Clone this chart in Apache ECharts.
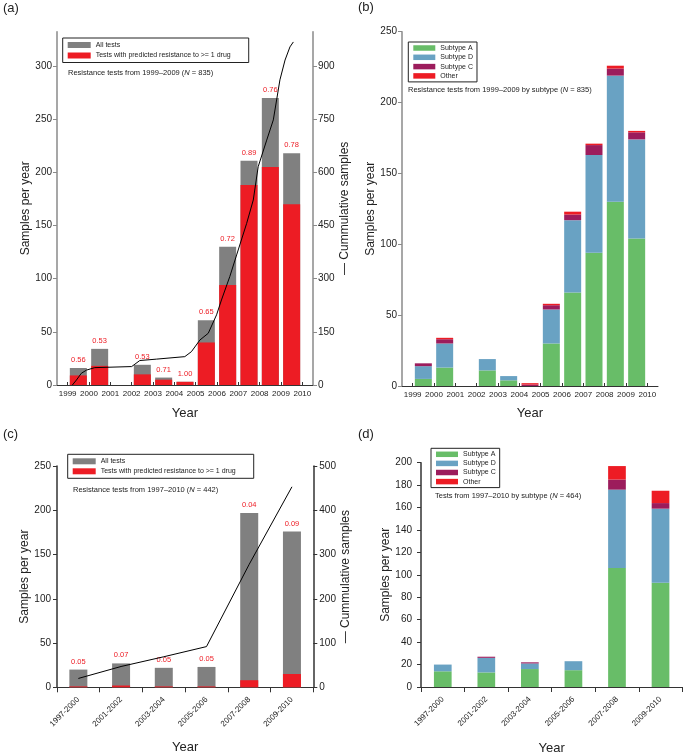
<!DOCTYPE html>
<html><head><meta charset="utf-8">
<script src="https://cdn.jsdelivr.net/npm/echarts@6/dist/echarts.min.js"></script>
<style>html,body{margin:0;padding:0;background:#fff}#c{width:686px;height:756px}</style>
</head><body><div id="c"></div>
<script>
// ---- Panel (a) ----
const yearsA = [1999, 2000, 2001, 2002, 2003, 2004, 2005, 2006, 2007, 2008, 2009];
const allTestsA = [16, 34, 0, 19, 7, 3, 61, 130, 211, 270, 218];
const resistantA = [9, 18, 0, 10, 5, 3, 40, 94, 188, 205, 170];
const ratioA = ['0.56', '0.53', '', '0.53', '0.71', '1.00', '0.65', '0.72', '0.89', '0.76', '0.78'];
const cumTimeA = [1999.22, 1999.41, 1999.64, 1999.88, 2000.27, 2002.0, 2002.38, 2003.16, 2004.49, 2004.8, 2005.2, 2005.59, 2005.98, 2006.21, 2006.6, 2006.92, 2007.39, 2007.7, 2007.93, 2008.33, 2008.64, 2008.95, 2009.19, 2009.42, 2009.58];
const cumValueA = [0, 14, 33, 42, 49, 52, 69, 73, 80, 94, 127, 146, 198, 240, 306, 367, 456, 522, 616, 691, 748, 861, 917, 954, 968];
const yearTicks = [1999, 2000, 2001, 2002, 2003, 2004, 2005, 2006, 2007, 2008, 2009, 2010];
const leftTicksA = [0, 50, 100, 150, 200, 250, 300];
const rightTicksA = [0, 150, 300, 450, 600, 750, 900];

// ---- Panel (b) ----
const subAB = [5, 13, 0, 11, 4, 0, 30, 66, 94, 130, 104];
const subDB = [9, 17, 0, 8, 3, 0, 24, 51, 69, 89, 70];
const subCB = [2, 3, 0, 0, 0, 1, 3, 4, 7, 5, 5];
const otherB = [0, 1, 0, 0, 0, 1, 1, 2, 1, 2, 1];
const leftTicksB = [0, 50, 100, 150, 200, 250];

// ---- Panel (c) ----
const periods = ['1997-2000', '2001-2002', '2003-2004', '2005-2006', '2007-2008', '2009-2010'];
const allTestsC = [20, 27, 22, 23, 197, 176];
const resistantC = [1, 2, 1, 1, 8, 15];
const ratioC = ['0.05', '0.07', '0.05', '0.05', '0.04', '0.09'];
const cumC = [20, 47, 69, 92, 278, 453];
const leftTicksC = [0, 50, 100, 150, 200, 250];
const rightTicksC = [0, 100, 200, 300, 400, 500];

// ---- Panel (d) ----
const subAD = [14, 13, 16, 15, 106, 93];
const subDD = [6, 13, 5, 8, 70, 66];
const subCD = [0, 1, 1, 0, 9, 5];
const otherD = [0, 0, 0, 0, 12, 11];
const leftTicksD = [0, 20, 40, 60, 80, 100, 120, 140, 160, 180, 200];

const FF = 'Liberation Sans, Arial, Helvetica, sans-serif';
const GRAY = '#808080', RED = '#ed1c24', GREEN = '#68bd68', BLUE = '#69a2c3', PURPLE = '#9c1c5c';
const AX_GRAY = '#8a8a8a', AX_DARK = '#333';

const chart = echarts.init(document.getElementById('c'), null, {renderer: 'canvas'});

function yAx(grid, pos, max, ticks, name, gap, color, margin) {
  return {
    type: 'value', gridIndex: grid, position: pos, min: 0, max: max,
    splitLine: {show: false},
    axisLine: {show: true, lineStyle: {color: color, width: 1.5}},
    axisTick: {show: true, length: 4, customValues: ticks, lineStyle: {color: color, width: 1}},
    axisLabel: {customValues: ticks, fontSize: 10, color: '#222', fontFamily: FF, margin: margin},
    name: name, nameLocation: 'middle', nameGap: gap, nameRotate: 90,
    nameTextStyle: {fontSize: 12, color: '#222', fontFamily: FF}
  };
}
function xVal(grid, gap) {
  return {
    type: 'value', gridIndex: grid, min: 1998.5, max: 2010.5,
    splitLine: {show: false},
    axisLine: {show: true, onZero: false, lineStyle: {color: AX_DARK, width: 1}},
    axisTick: {show: true, inside: true, length: 3, customValues: yearTicks, lineStyle: {color: AX_DARK}},
    axisLabel: {customValues: yearTicks, fontSize: 8, color: '#222', fontFamily: FF, margin: 5, formatter: v => String(v)},
    name: 'Year', nameLocation: 'middle', nameGap: gap,
    nameTextStyle: {fontSize: 13, color: '#222', fontFamily: FF}
  };
}
function xCat(grid, gap) {
  return {
    type: 'category', gridIndex: grid, data: periods,
    axisLine: {show: true, onZero: false, lineStyle: {color: AX_DARK, width: 1}},
    axisTick: {show: true, length: 5, lineStyle: {color: AX_DARK}},
    axisLabel: {rotate: 45, fontSize: 8, color: '#222', fontFamily: FF, margin: 11, interval: 0},
    name: 'Year', nameLocation: 'middle', nameGap: gap,
    nameTextStyle: {fontSize: 13, color: '#222', fontFamily: FF}
  };
}
function legendBox(names, left, top, swW, swH, gap, pad) {
  return {
    data: names, left: left, top: top, orient: 'vertical', icon: 'rect', align: 'left',
    itemWidth: swW, itemHeight: swH, itemGap: gap, padding: pad, selectedMode: false,
    borderColor: '#222', borderWidth: 1,
    textStyle: {fontSize: 7, lineHeight: 8, color: '#222', fontFamily: FF}
  };
}
function note(text, left, top) {
  return {
    text: text, left: left, top: top, padding: 0,
    textStyle: {fontSize: 7.5, fontWeight: 'normal', color: '#222', fontFamily: FF,
      rich: {i: {fontStyle: 'italic', fontSize: 7.5, color: '#222', fontFamily: FF}}}
  };
}
function panelTitle(text, left, top) {
  return {text: text, left: left, top: top, padding: 0,
    textStyle: {fontSize: 13, fontWeight: 'normal', color: '#222', fontFamily: FF}};
}
const ratioLabel = arr => ({show: true, position: 'top', distance: 4, color: RED, fontSize: 7.5, fontFamily: FF,
  formatter: p => arr[p.dataIndex]});

const subNames = ['Subtype A', 'Subtype D', 'Subtype C', 'Other'];
const resNames = ['All tests', 'Tests with predicted resistance to >= 1 drug'];
const subColors = [GREEN, BLUE, PURPLE, RED];

// stacked bars on a value x-axis: value column first so that it is the stacked dimension
function stackSeriesValueX(xi, yi, arrs, xs, width, stackName) {
  return arrs.map((arr, k) => ({
    type: 'bar', name: subNames[k], xAxisIndex: xi, yAxisIndex: yi, stack: stackName,
    barWidth: width, itemStyle: {color: subColors[k]},
    encode: {x: 1, y: 0},
    data: arr.map((v, i) => [v, xs[i]])
  }));
}
function stackSeriesCat(xi, yi, arrs, width, stackName) {
  return arrs.map((arr, k) => ({
    type: 'bar', name: subNames[k], xAxisIndex: xi, yAxisIndex: yi, stack: stackName,
    barWidth: width, itemStyle: {color: subColors[k]}, data: arr
  }));
}
const barPosA = yearsA.map(y => y + 0.5);

const option = {
  animation: false,
  textStyle: {fontFamily: FF},
  title: [
    panelTitle('(a)', 3, 2), panelTitle('(b)', 358, 1), panelTitle('(c)', 3, 428), panelTitle('(d)', 358, 428),
    note('Resistance tests from 1999\u20132009 ({i|N} = 835)', 68, 68.5),
    note('Resistance tests from 1999\u20132009 by subtype ({i|N} = 835)', 408, 85.5),
    note('Resistance tests from 1997\u20132010 ({i|N} = 442)', 73, 485.5),
    note('Tests from 1997\u20132010 by subtype ({i|N} = 464)', 435, 491.5)
  ],
  legend: [
    legendBox(resNames, 62.7, 38, 23, 6, 2.5, [3, 18, 3, 5]),
    legendBox(subNames, 408.3, 42, 22, 5.5, 1.3, [2, 4, 2, 5]),
    legendBox(resNames, 67.7, 454.3, 23, 6, 2, [3, 18, 3, 5]),
    legendBox(subNames, 431, 448.3, 22, 5.5, 1.1, [2, 4, 2, 5])
  ],
  grid: [
    {left: 57, top: 31.7, width: 256, height: 353.3},
    {left: 402, top: 31.7, width: 256, height: 354.3},
    {left: 57, top: 466, width: 256.3, height: 221.3},
    {left: 421, top: 462.7, width: 261.3, height: 224.3}
  ],
  xAxis: [xVal(0, 21.5), xVal(1, 20.5), xCat(2, 54), xCat(3, 54.5)],
  yAxis: [
    yAx(0, 'left', 332.3, leftTicksA, 'Samples per year', 25, AX_GRAY, 5),
    yAx(0, 'right', 996.9, rightTicksA, '\u2014 Cummulative samples', 11, AX_GRAY, 5),
    yAx(1, 'left', 250, leftTicksB, 'Samples per year', 24, AX_GRAY, 5),
    yAx(2, 'left', 250, leftTicksC, 'Samples per year', 26, AX_DARK, 6),
    yAx(2, 'right', 500, rightTicksC, '\u2014 Cummulative samples', 11, AX_DARK, 6),
    yAx(3, 'left', 200, leftTicksD, 'Samples per year', 29, AX_DARK, 9)
  ],
  series: [
    {type: 'bar', name: resNames[0], xAxisIndex: 0, yAxisIndex: 0, barWidth: 17, barGap: '-100%',
      itemStyle: {color: GRAY}, label: ratioLabel(ratioA),
      data: barPosA.map((x, i) => [x, allTestsA[i]])},
    {type: 'bar', name: resNames[1], xAxisIndex: 0, yAxisIndex: 0, barWidth: 17, barGap: '-100%',
      itemStyle: {color: RED}, data: barPosA.map((x, i) => [x, resistantA[i]])},
    {type: 'line', xAxisIndex: 0, yAxisIndex: 1, symbol: 'none', silent: true, z: 5,
      lineStyle: {color: '#000', width: 1}, data: cumTimeA.map((t, i) => [t, cumValueA[i]])},
    ...stackSeriesValueX(1, 2, [subAB, subDB, subCB, otherB], barPosA, 17, 'b'),
    {type: 'bar', name: resNames[0], xAxisIndex: 2, yAxisIndex: 3, barWidth: 18, barGap: '-100%',
      itemStyle: {color: GRAY}, label: ratioLabel(ratioC), data: allTestsC},
    {type: 'bar', name: resNames[1], xAxisIndex: 2, yAxisIndex: 3, barWidth: 18, barGap: '-100%',
      itemStyle: {color: RED}, data: resistantC},
    {type: 'line', xAxisIndex: 2, yAxisIndex: 4, symbol: 'none', silent: true, z: 5,
      lineStyle: {color: '#000', width: 1}, data: cumC},
    ...stackSeriesCat(3, 5, [subAD, subDD, subCD, otherD], 17.7, 'd')
  ]
};
chart.setOption(option);
</script>
</body></html>
